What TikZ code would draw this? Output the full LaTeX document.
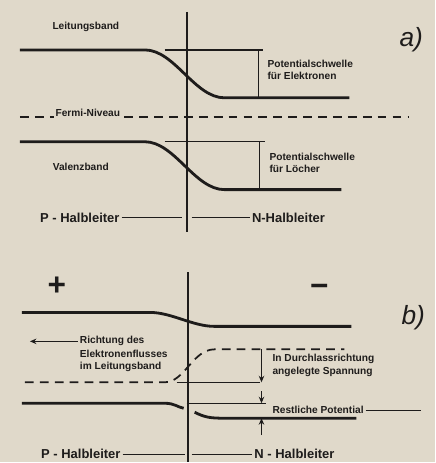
\documentclass[tikz,border=0pt]{standalone}
\usepackage{fontspec}
\setmainfont{Liberation Sans}
\usetikzlibrary{positioning,arrows.meta,calc}
\definecolor{Paper}{RGB}{224,217,202}
\definecolor{Ink}{RGB}{30,28,27}

\begin{document}
\begin{tikzpicture}[x=0.02cm,y=-0.02cm,
    band/.style={draw=Ink,line width=1.6pt},
    thinline/.style={draw=Ink,line width=0.7pt},
    divider/.style={draw=Ink,line width=1pt},
    fermi/.style={draw=Ink,line width=1.2pt,dash pattern=on 5pt off 3.5pt},
    lbl/.style={text=Ink,font=\bfseries\fontsize{5.8}{7}\selectfont,inner sep=1pt,align=left},
    side/.style={text=Ink,font=\bfseries\fontsize{7.4}{9}\selectfont,inner sep=1pt},
    part/.style={text=Ink,font=\itshape\fontsize{15}{17}\selectfont},
    sign/.style={text=Ink,font=\bfseries\fontsize{18}{18}\selectfont},
    arrow/.style={-{Stealth[length=1.3mm,width=1.1mm]},thinline}
]

\fill[Paper] (0,0) rectangle (436,463);

% ---------- a) ----------
\draw[divider] (187,12) -- (187,232);
\node[part] (part-a) at (412,40) {a)};

% Conduction band
\node[lbl] (cb-label) at (86,27) {Leitungsband};
\draw[band] (20,50) -- (145,50) .. controls (175,50) and (195,98) .. (225,98) -- (350,98);
\draw[thinline] (165,50) -- (263,50);
\draw[thinline] (259,50) -- (259,98);
\node[lbl,anchor=north west] (barrier-e) at (266,58) {Potentialschwelle\\für Elektronen};

% Fermi level
\draw[fermi] (20,117) -- (410,117);
\node[lbl,fill=Paper] (fermi-label) at (88,113) {Fermi-Niveau};

% Valence band
\draw[band] (20,142) -- (145,142) .. controls (175,142) and (195,190) .. (225,190) -- (342,190);
\draw[thinline] (165,142) -- (266,142);
\draw[thinline] (260,142) -- (260,190);
\node[lbl] (vb-label) at (81,167) {Valenzband};
\node[lbl,anchor=north west] (barrier-h) at (268,151) {Potentialschwelle\\für Löcher};

% P / N regions
\node[side] (p-a) at (80,218) {P - Halbleiter};
\node[side] (n-a) at (289,218) {N-Halbleiter};
\coordinate (p-a-end) at (182,218);
\coordinate (n-a-end) at (192,218);
\draw[thinline] (p-a) -- (p-a-end);
\draw[thinline] (n-a-end) -- (n-a);

% ---------- b) ----------
\draw[divider] (188,273) -- (188,463);
\node[part] (part-b) at (414,318) {b)};
\node[sign] (plus) at (57,287) {+};
\node[sign] (minus) at (320,291) {−};

% Conduction band, lowered barrier
\draw[band] (22,313) -- (150,313) .. controls (172,313) and (193,327) .. (215,327) -- (352,327);

% Electron flow
\node[lbl,anchor=west] (flux1) at (78,342) {Richtung des};
\node[lbl,below=0pt of flux1.south west,anchor=north west] (flux2) {Elektronenflusses};
\node[lbl,below=0pt of flux2.south west,anchor=north west] (flux3) {im Leitungsband};
\coordinate (flux-tip) at (30,342);
\draw[arrow] (flux1.west) -- (flux-tip);

% Applied forward voltage
\draw[fermi,line width=1pt] (25,383) -- (165,383) .. controls (185,383) and (193,350) .. (215,350) -- (345,350);
\draw[thinline] (177,383) -- (260,383);
\coordinate (volt-top) at (262,350);
\coordinate (volt-bot) at (262,383);
\draw[arrow] (volt-top) -- (volt-bot);
\node[lbl,anchor=north west] (forward) at (271,353) {In Durchlassrichtung\\angelegte Spannung};

% Valence band, lowered barrier
\draw[band] (22,404) -- (165,404) .. controls (175,404) and (178,408) .. (184,409);
\draw[thinline] (187,404) -- (267,404);
\draw[band] (195,413) .. controls (205,418) and (210,419) .. (225,419) -- (357,419);
\coordinate (rest-top) at (262,392);
\coordinate (rest-hi) at (262,404);
\coordinate (rest-bot) at (262,436);
\coordinate (rest-lo) at (262,419);
\draw[arrow] (rest-top) -- (rest-hi);
\draw[arrow] (rest-bot) -- (rest-lo);
\node[lbl,anchor=west] (rest) at (271,411) {Restliche Potential};
\coordinate (rest-end) at (422,411);
\draw[thinline] (rest.east) -- (rest-end);

% P / N regions
\node[side] (p-b) at (81,455) {P - Halbleiter};
\node[side] (n-b) at (295,455) {N - Halbleiter};
\coordinate (p-b-end) at (185,455);
\coordinate (n-b-end) at (192,455);
\draw[thinline] (p-b) -- (p-b-end);
\draw[thinline] (n-b-end) -- (n-b);

\end{tikzpicture}
\end{document}
